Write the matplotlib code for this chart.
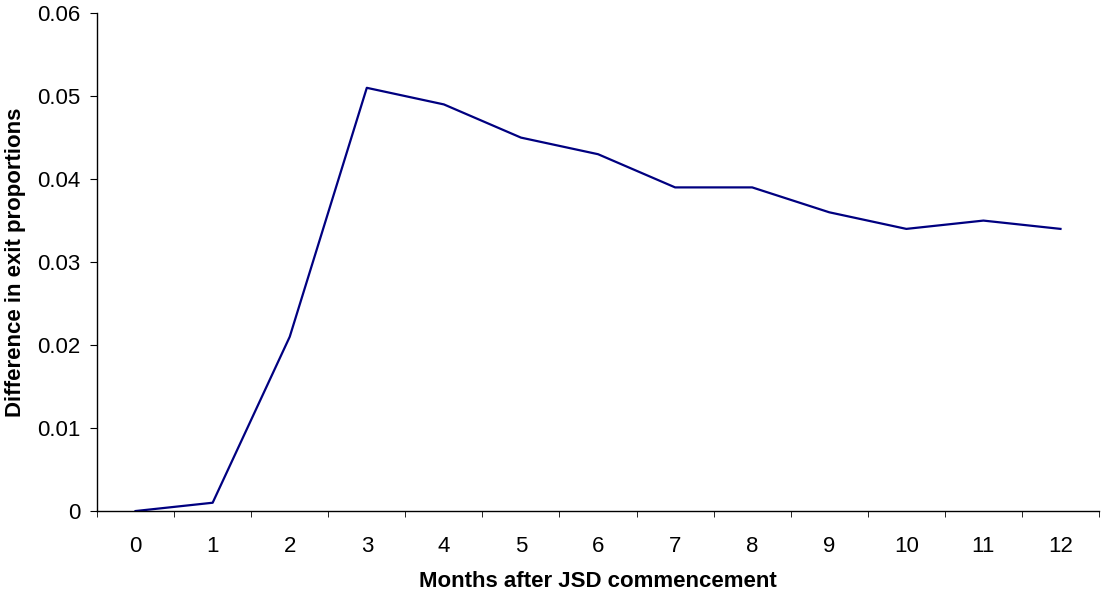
import numpy as np
import matplotlib.pyplot as plt

plt.rcParams['font.family'] = ['Liberation Sans', 'DejaVu Sans']

# Data
months = ['0', '1', '2', '3', '4', '5', '6', '7', '8', '9', '10', '11', '12']
diff = [0.0, 0.001, 0.021, 0.051, 0.049, 0.045, 0.043, 0.039, 0.039, 0.036, 0.034, 0.035, 0.034]
yticks = [0, 0.01, 0.02, 0.03, 0.04, 0.05, 0.06]
ylabels = ['0', '0.01', '0.02', '0.03', '0.04', '0.05', '0.06']

fig = plt.figure(figsize=(11.04, 5.97), dpi=100)
ax = fig.add_axes([0.0879, 0.144, 0.9076, 0.834])

x = np.arange(len(months))
ax.plot(x, diff, color='#000080', linewidth=1.6)

ax.set_xlim(-0.5, len(months) - 0.5)
ax.set_ylim(0, 0.06)

# category labels centred, tick marks at the boundaries
ax.set_xticks(x)
ax.set_xticklabels(months, fontsize=16)
ax.tick_params(axis='x', which='major', length=0, pad=18)
ax.set_xticks(np.arange(-0.5, len(months)), minor=True)
ax.tick_params(axis='x', which='minor', length=4.5, direction='out', color='black')

ax.set_yticks(yticks)
ax.set_yticklabels(ylabels, fontsize=16)
ax.tick_params(axis='y', length=5, direction='out', pad=7)

for s in ['top', 'right']:
    ax.spines[s].set_visible(False)
for s in ['left', 'bottom']:
    ax.spines[s].set_color('black')
    ax.spines[s].set_linewidth(1)

ax.set_xlabel('Months after JSD commencement', fontsize=16, fontweight='bold', labelpad=10)
ax.set_ylabel('Difference in exit proportions', fontsize=16, fontweight='bold', labelpad=8)

fig.savefig('out.png', dpi=100)
